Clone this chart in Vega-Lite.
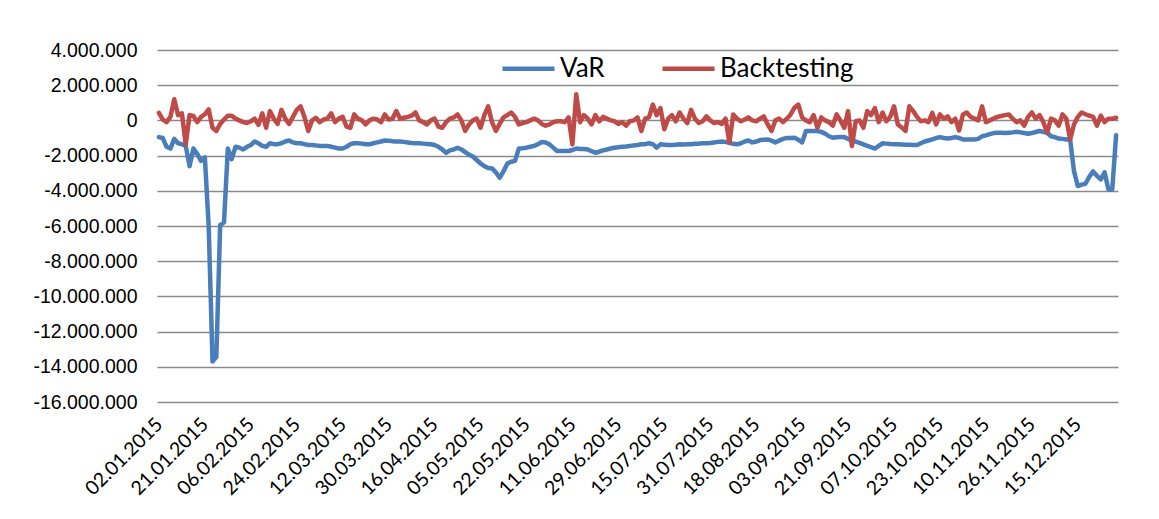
{
"$schema": "https://vega.github.io/schema/vega-lite/v6.json",
"width": 961,
"height": 352,
"autosize": "none",
"padding": {"left": 157, "top": 50, "right": 41, "bottom": 117},
"background": "white",
"config": {
  "locale": {"number": {"decimal": ",", "thousands": ".", "grouping": [3], "currency": ["", " €"], "minus": "-"}},
  "view": {"stroke": null}
},
"data": {"values": [
{"d":"02.01.2015","VaR":-950000,"Backtesting":430000},
{"d":"05.01.2015","VaR":-1000000,"Backtesting":50000},
{"d":"07.01.2015","VaR":-1500000,"Backtesting":-100000},
{"d":"08.01.2015","VaR":-1600000,"Backtesting":200000},
{"d":"09.01.2015","VaR":-1050000,"Backtesting":1200000},
{"d":"12.01.2015","VaR":-1300000,"Backtesting":300000},
{"d":"13.01.2015","VaR":-1350000,"Backtesting":400000},
{"d":"14.01.2015","VaR":-1450000,"Backtesting":-1360000},
{"d":"15.01.2015","VaR":-2600000,"Backtesting":300000},
{"d":"16.01.2015","VaR":-1600000,"Backtesting":250000},
{"d":"19.01.2015","VaR":-1900000,"Backtesting":-100000},
{"d":"20.01.2015","VaR":-2300000,"Backtesting":200000},
{"d":"21.01.2015","VaR":-2100000,"Backtesting":350000},
{"d":"22.01.2015","VaR":-6000000,"Backtesting":620000},
{"d":"23.01.2015","VaR":-13700000,"Backtesting":-420000},
{"d":"26.01.2015","VaR":-13450000,"Backtesting":-600000},
{"d":"27.01.2015","VaR":-5950000,"Backtesting":-200000},
{"d":"28.01.2015","VaR":-5800000,"Backtesting":50000},
{"d":"29.01.2015","VaR":-1600000,"Backtesting":270000},
{"d":"30.01.2015","VaR":-2200000,"Backtesting":270000},
{"d":"02.02.2015","VaR":-1500000,"Backtesting":100000},
{"d":"03.02.2015","VaR":-1550000,"Backtesting":0},
{"d":"04.02.2015","VaR":-1650000,"Backtesting":-100000},
{"d":"05.02.2015","VaR":-1500000,"Backtesting":-150000},
{"d":"06.02.2015","VaR":-1400000,"Backtesting":-50000},
{"d":"09.02.2015","VaR":-1200000,"Backtesting":100000},
{"d":"10.02.2015","VaR":-1300000,"Backtesting":-250000},
{"d":"11.02.2015","VaR":-1450000,"Backtesting":400000},
{"d":"12.02.2015","VaR":-1500000,"Backtesting":-420000},
{"d":"13.02.2015","VaR":-1300000,"Backtesting":530000},
{"d":"16.02.2015","VaR":-1350000,"Backtesting":100000},
{"d":"17.02.2015","VaR":-1350000,"Backtesting":-200000},
{"d":"18.02.2015","VaR":-1300000,"Backtesting":600000},
{"d":"19.02.2015","VaR":-1200000,"Backtesting":100000},
{"d":"20.02.2015","VaR":-1140000,"Backtesting":-200000},
{"d":"23.02.2015","VaR":-1250000,"Backtesting":200000},
{"d":"24.02.2015","VaR":-1300000,"Backtesting":600000},
{"d":"25.02.2015","VaR":-1300000,"Backtesting":800000},
{"d":"26.02.2015","VaR":-1350000,"Backtesting":200000},
{"d":"27.02.2015","VaR":-1400000,"Backtesting":-600000},
{"d":"02.03.2015","VaR":-1400000,"Backtesting":0},
{"d":"03.03.2015","VaR":-1420000,"Backtesting":150000},
{"d":"04.03.2015","VaR":-1450000,"Backtesting":-100000},
{"d":"05.03.2015","VaR":-1450000,"Backtesting":50000},
{"d":"06.03.2015","VaR":-1450000,"Backtesting":100000},
{"d":"09.03.2015","VaR":-1500000,"Backtesting":400000},
{"d":"10.03.2015","VaR":-1550000,"Backtesting":-100000},
{"d":"11.03.2015","VaR":-1600000,"Backtesting":100000},
{"d":"12.03.2015","VaR":-1600000,"Backtesting":200000},
{"d":"13.03.2015","VaR":-1500000,"Backtesting":-350000},
{"d":"16.03.2015","VaR":-1350000,"Backtesting":-420000},
{"d":"17.03.2015","VaR":-1300000,"Backtesting":340000},
{"d":"18.03.2015","VaR":-1300000,"Backtesting":100000},
{"d":"19.03.2015","VaR":-1320000,"Backtesting":0},
{"d":"20.03.2015","VaR":-1360000,"Backtesting":-230000},
{"d":"23.03.2015","VaR":-1360000,"Backtesting":0},
{"d":"24.03.2015","VaR":-1300000,"Backtesting":100000},
{"d":"25.03.2015","VaR":-1250000,"Backtesting":50000},
{"d":"26.03.2015","VaR":-1200000,"Backtesting":-100000},
{"d":"27.03.2015","VaR":-1140000,"Backtesting":340000},
{"d":"30.03.2015","VaR":-1150000,"Backtesting":50000},
{"d":"31.03.2015","VaR":-1180000,"Backtesting":100000},
{"d":"01.04.2015","VaR":-1200000,"Backtesting":530000},
{"d":"02.04.2015","VaR":-1200000,"Backtesting":100000},
{"d":"03.04.2015","VaR":-1220000,"Backtesting":150000},
{"d":"07.04.2015","VaR":-1250000,"Backtesting":200000},
{"d":"08.04.2015","VaR":-1280000,"Backtesting":270000},
{"d":"09.04.2015","VaR":-1300000,"Backtesting":450000},
{"d":"10.04.2015","VaR":-1300000,"Backtesting":0},
{"d":"13.04.2015","VaR":-1320000,"Backtesting":-100000},
{"d":"14.04.2015","VaR":-1340000,"Backtesting":-230000},
{"d":"15.04.2015","VaR":-1360000,"Backtesting":0},
{"d":"16.04.2015","VaR":-1400000,"Backtesting":100000},
{"d":"17.04.2015","VaR":-1500000,"Backtesting":-350000},
{"d":"20.04.2015","VaR":-1650000,"Backtesting":-420000},
{"d":"21.04.2015","VaR":-1840000,"Backtesting":-100000},
{"d":"22.04.2015","VaR":-1700000,"Backtesting":100000},
{"d":"23.04.2015","VaR":-1650000,"Backtesting":170000},
{"d":"24.04.2015","VaR":-1550000,"Backtesting":340000},
{"d":"27.04.2015","VaR":-1650000,"Backtesting":0},
{"d":"28.04.2015","VaR":-1800000,"Backtesting":-600000},
{"d":"29.04.2015","VaR":-1950000,"Backtesting":-230000},
{"d":"30.04.2015","VaR":-2050000,"Backtesting":0},
{"d":"04.05.2015","VaR":-2250000,"Backtesting":100000},
{"d":"05.05.2015","VaR":-2450000,"Backtesting":-420000},
{"d":"06.05.2015","VaR":-2600000,"Backtesting":300000},
{"d":"07.05.2015","VaR":-2700000,"Backtesting":800000},
{"d":"08.05.2015","VaR":-2730000,"Backtesting":-100000},
{"d":"11.05.2015","VaR":-2950000,"Backtesting":-600000},
{"d":"12.05.2015","VaR":-3260000,"Backtesting":-200000},
{"d":"13.05.2015","VaR":-2900000,"Backtesting":170000},
{"d":"15.05.2015","VaR":-2450000,"Backtesting":300000},
{"d":"18.05.2015","VaR":-2350000,"Backtesting":450000},
{"d":"19.05.2015","VaR":-2300000,"Backtesting":200000},
{"d":"20.05.2015","VaR":-1600000,"Backtesting":-230000},
{"d":"21.05.2015","VaR":-1580000,"Backtesting":-150000},
{"d":"22.05.2015","VaR":-1550000,"Backtesting":-100000},
{"d":"26.05.2015","VaR":-1500000,"Backtesting":0},
{"d":"27.05.2015","VaR":-1450000,"Backtesting":100000},
{"d":"28.05.2015","VaR":-1350000,"Backtesting":0},
{"d":"29.05.2015","VaR":-1230000,"Backtesting":-200000},
{"d":"01.06.2015","VaR":-1250000,"Backtesting":-300000},
{"d":"02.06.2015","VaR":-1360000,"Backtesting":-230000},
{"d":"03.06.2015","VaR":-1550000,"Backtesting":-100000},
{"d":"05.06.2015","VaR":-1740000,"Backtesting":-50000},
{"d":"08.06.2015","VaR":-1740000,"Backtesting":-50000},
{"d":"09.06.2015","VaR":-1740000,"Backtesting":-100000},
{"d":"10.06.2015","VaR":-1740000,"Backtesting":170000},
{"d":"11.06.2015","VaR":-1680000,"Backtesting":-1360000},
{"d":"12.06.2015","VaR":-1600000,"Backtesting":1480000},
{"d":"15.06.2015","VaR":-1620000,"Backtesting":-100000},
{"d":"16.06.2015","VaR":-1630000,"Backtesting":300000},
{"d":"17.06.2015","VaR":-1650000,"Backtesting":100000},
{"d":"18.06.2015","VaR":-1750000,"Backtesting":-230000},
{"d":"19.06.2015","VaR":-1840000,"Backtesting":300000},
{"d":"22.06.2015","VaR":-1780000,"Backtesting":-50000},
{"d":"23.06.2015","VaR":-1700000,"Backtesting":200000},
{"d":"24.06.2015","VaR":-1650000,"Backtesting":100000},
{"d":"25.06.2015","VaR":-1600000,"Backtesting":0},
{"d":"26.06.2015","VaR":-1550000,"Backtesting":-50000},
{"d":"29.06.2015","VaR":-1520000,"Backtesting":-200000},
{"d":"30.06.2015","VaR":-1500000,"Backtesting":-100000},
{"d":"01.07.2015","VaR":-1480000,"Backtesting":-300000},
{"d":"02.07.2015","VaR":-1450000,"Backtesting":-50000},
{"d":"03.07.2015","VaR":-1420000,"Backtesting":0},
{"d":"06.07.2015","VaR":-1400000,"Backtesting":170000},
{"d":"07.07.2015","VaR":-1360000,"Backtesting":-600000},
{"d":"08.07.2015","VaR":-1350000,"Backtesting":100000},
{"d":"09.07.2015","VaR":-1300000,"Backtesting":170000},
{"d":"10.07.2015","VaR":-1350000,"Backtesting":900000},
{"d":"13.07.2015","VaR":-1550000,"Backtesting":300000},
{"d":"14.07.2015","VaR":-1360000,"Backtesting":700000},
{"d":"15.07.2015","VaR":-1380000,"Backtesting":-500000},
{"d":"16.07.2015","VaR":-1400000,"Backtesting":100000},
{"d":"17.07.2015","VaR":-1400000,"Backtesting":300000},
{"d":"20.07.2015","VaR":-1380000,"Backtesting":-50000},
{"d":"21.07.2015","VaR":-1360000,"Backtesting":450000},
{"d":"22.07.2015","VaR":-1370000,"Backtesting":100000},
{"d":"23.07.2015","VaR":-1360000,"Backtesting":-150000},
{"d":"24.07.2015","VaR":-1350000,"Backtesting":600000},
{"d":"27.07.2015","VaR":-1330000,"Backtesting":100000},
{"d":"28.07.2015","VaR":-1320000,"Backtesting":-150000},
{"d":"29.07.2015","VaR":-1300000,"Backtesting":-50000},
{"d":"30.07.2015","VaR":-1300000,"Backtesting":230000},
{"d":"31.07.2015","VaR":-1280000,"Backtesting":0},
{"d":"03.08.2015","VaR":-1250000,"Backtesting":-150000},
{"d":"04.08.2015","VaR":-1220000,"Backtesting":-100000},
{"d":"05.08.2015","VaR":-1200000,"Backtesting":-200000},
{"d":"06.08.2015","VaR":-1220000,"Backtesting":100000},
{"d":"07.08.2015","VaR":-1280000,"Backtesting":-1270000},
{"d":"10.08.2015","VaR":-1330000,"Backtesting":340000},
{"d":"11.08.2015","VaR":-1360000,"Backtesting":100000},
{"d":"12.08.2015","VaR":-1300000,"Backtesting":-50000},
{"d":"13.08.2015","VaR":-1200000,"Backtesting":50000},
{"d":"14.08.2015","VaR":-1140000,"Backtesting":170000},
{"d":"17.08.2015","VaR":-1250000,"Backtesting":0},
{"d":"18.08.2015","VaR":-1200000,"Backtesting":-50000},
{"d":"19.08.2015","VaR":-1120000,"Backtesting":100000},
{"d":"20.08.2015","VaR":-1100000,"Backtesting":230000},
{"d":"21.08.2015","VaR":-1080000,"Backtesting":-230000},
{"d":"24.08.2015","VaR":-1150000,"Backtesting":-600000},
{"d":"25.08.2015","VaR":-1250000,"Backtesting":0},
{"d":"26.08.2015","VaR":-1150000,"Backtesting":100000},
{"d":"27.08.2015","VaR":-1050000,"Backtesting":-100000},
{"d":"28.08.2015","VaR":-1000000,"Backtesting":100000},
{"d":"31.08.2015","VaR":-1000000,"Backtesting":340000},
{"d":"01.09.2015","VaR":-980000,"Backtesting":720000},
{"d":"02.09.2015","VaR":-1100000,"Backtesting":900000},
{"d":"03.09.2015","VaR":-1250000,"Backtesting":170000},
{"d":"04.09.2015","VaR":-600000,"Backtesting":0},
{"d":"07.09.2015","VaR":-600000,"Backtesting":-100000},
{"d":"08.09.2015","VaR":-600000,"Backtesting":300000},
{"d":"09.09.2015","VaR":-600000,"Backtesting":-420000},
{"d":"10.09.2015","VaR":-650000,"Backtesting":170000},
{"d":"11.09.2015","VaR":-750000,"Backtesting":0},
{"d":"14.09.2015","VaR":-900000,"Backtesting":-100000},
{"d":"15.09.2015","VaR":-980000,"Backtesting":-300000},
{"d":"16.09.2015","VaR":-960000,"Backtesting":340000},
{"d":"17.09.2015","VaR":-950000,"Backtesting":0},
{"d":"18.09.2015","VaR":-950000,"Backtesting":-420000},
{"d":"21.09.2015","VaR":-1050000,"Backtesting":530000},
{"d":"22.09.2015","VaR":-1150000,"Backtesting":-1460000},
{"d":"23.09.2015","VaR":-1200000,"Backtesting":-50000},
{"d":"24.09.2015","VaR":-1280000,"Backtesting":0},
{"d":"25.09.2015","VaR":-1360000,"Backtesting":-420000},
{"d":"28.09.2015","VaR":-1450000,"Backtesting":530000},
{"d":"29.09.2015","VaR":-1520000,"Backtesting":300000},
{"d":"30.09.2015","VaR":-1600000,"Backtesting":700000},
{"d":"01.10.2015","VaR":-1450000,"Backtesting":-100000},
{"d":"02.10.2015","VaR":-1300000,"Backtesting":450000},
{"d":"05.10.2015","VaR":-1320000,"Backtesting":-50000},
{"d":"06.10.2015","VaR":-1340000,"Backtesting":200000},
{"d":"07.10.2015","VaR":-1350000,"Backtesting":800000},
{"d":"08.10.2015","VaR":-1360000,"Backtesting":-230000},
{"d":"09.10.2015","VaR":-1370000,"Backtesting":-400000},
{"d":"12.10.2015","VaR":-1380000,"Backtesting":-600000},
{"d":"13.10.2015","VaR":-1380000,"Backtesting":800000},
{"d":"14.10.2015","VaR":-1400000,"Backtesting":530000},
{"d":"15.10.2015","VaR":-1400000,"Backtesting":200000},
{"d":"16.10.2015","VaR":-1300000,"Backtesting":-50000},
{"d":"19.10.2015","VaR":-1200000,"Backtesting":0},
{"d":"20.10.2015","VaR":-1140000,"Backtesting":-100000},
{"d":"21.10.2015","VaR":-1080000,"Backtesting":430000},
{"d":"22.10.2015","VaR":-1000000,"Backtesting":-230000},
{"d":"23.10.2015","VaR":-950000,"Backtesting":340000},
{"d":"26.10.2015","VaR":-1000000,"Backtesting":100000},
{"d":"27.10.2015","VaR":-1030000,"Backtesting":230000},
{"d":"28.10.2015","VaR":-1000000,"Backtesting":-100000},
{"d":"29.10.2015","VaR":-950000,"Backtesting":100000},
{"d":"30.10.2015","VaR":-1000000,"Backtesting":-570000},
{"d":"02.11.2015","VaR":-1080000,"Backtesting":340000},
{"d":"03.11.2015","VaR":-1080000,"Backtesting":450000},
{"d":"04.11.2015","VaR":-1080000,"Backtesting":200000},
{"d":"05.11.2015","VaR":-1080000,"Backtesting":100000},
{"d":"06.11.2015","VaR":-1050000,"Backtesting":0},
{"d":"09.11.2015","VaR":-900000,"Backtesting":800000},
{"d":"10.11.2015","VaR":-850000,"Backtesting":-100000},
{"d":"11.11.2015","VaR":-780000,"Backtesting":0},
{"d":"12.11.2015","VaR":-720000,"Backtesting":100000},
{"d":"13.11.2015","VaR":-700000,"Backtesting":200000},
{"d":"16.11.2015","VaR":-700000,"Backtesting":250000},
{"d":"17.11.2015","VaR":-720000,"Backtesting":300000},
{"d":"18.11.2015","VaR":-700000,"Backtesting":340000},
{"d":"19.11.2015","VaR":-680000,"Backtesting":100000},
{"d":"20.11.2015","VaR":-650000,"Backtesting":-100000},
{"d":"23.11.2015","VaR":-680000,"Backtesting":0},
{"d":"24.11.2015","VaR":-720000,"Backtesting":-300000},
{"d":"25.11.2015","VaR":-760000,"Backtesting":200000},
{"d":"26.11.2015","VaR":-720000,"Backtesting":450000},
{"d":"27.11.2015","VaR":-660000,"Backtesting":100000},
{"d":"30.11.2015","VaR":-600000,"Backtesting":300000},
{"d":"01.12.2015","VaR":-650000,"Backtesting":-100000},
{"d":"02.12.2015","VaR":-700000,"Backtesting":-700000},
{"d":"03.12.2015","VaR":-900000,"Backtesting":100000},
{"d":"04.12.2015","VaR":-950000,"Backtesting":0},
{"d":"07.12.2015","VaR":-1030000,"Backtesting":-300000},
{"d":"09.12.2015","VaR":-1050000,"Backtesting":340000},
{"d":"10.12.2015","VaR":-1080000,"Backtesting":100000},
{"d":"11.12.2015","VaR":-1080000,"Backtesting":-1080000},
{"d":"14.12.2015","VaR":-2880000,"Backtesting":-230000},
{"d":"15.12.2015","VaR":-3730000,"Backtesting":200000},
{"d":"16.12.2015","VaR":-3650000,"Backtesting":450000},
{"d":"17.12.2015","VaR":-3600000,"Backtesting":350000},
{"d":"18.12.2015","VaR":-3200000,"Backtesting":270000},
{"d":"21.12.2015","VaR":-2900000,"Backtesting":200000},
{"d":"22.12.2015","VaR":-3150000,"Backtesting":-300000},
{"d":"23.12.2015","VaR":-3350000,"Backtesting":270000},
{"d":"28.12.2015","VaR":-2950000,"Backtesting":-100000},
{"d":"29.12.2015","VaR":-3920000,"Backtesting":100000},
{"d":"30.12.2015","VaR":-3920000,"Backtesting":100000},
{"d":"31.12.2015","VaR":-850000,"Backtesting":150000}
]},
"transform": [{"fold": ["VaR", "Backtesting"], "as": ["series", "value"]}],
"mark": {"type": "line", "strokeWidth": 4.5, "strokeJoin": "round", "strokeCap": "round"},
"encoding": {
  "x": {
    "field": "d", "type": "ordinal", "sort": null,
    "scale": {"type": "point", "padding": 0.5},
    "axis": {
      "title": null, "domain": false, "ticks": false, "grid": false,
      "values": ["02.01.2015","21.01.2015","06.02.2015","24.02.2015","12.03.2015","30.03.2015","16.04.2015","05.05.2015","22.05.2015","11.06.2015","29.06.2015","15.07.2015","31.07.2015","18.08.2015","03.09.2015","21.09.2015","07.10.2015","23.10.2015","10.11.2015","26.11.2015","15.12.2015"],
      "labelAngle": -45, "labelAlign": "right", "labelBaseline": "middle",
      "labelPadding": 19, "labelFont": "Lato", "labelFontSize": 19.5, "labelColor": "#000000",
      "labelOverlap": false
    }
  },
  "y": {
    "field": "value", "type": "quantitative",
    "scale": {"domain": [-16000000, 4000000], "nice": false, "zero": false},
    "axis": {
      "title": null, "domain": false, "ticks": false,
      "values": [-16000000,-14000000,-12000000,-10000000,-8000000,-6000000,-4000000,-2000000,0,2000000,4000000],
      "format": ",d", "labelPadding": 20,
      "labelFont": "Liberation Sans", "labelFontSize": 19.5, "labelColor": "#000000",
      "gridColor": "#8a8a8a", "gridWidth": 1.5, "gridOpacity": 1
    }
  },
  "color": {
    "field": "series", "type": "nominal",
    "scale": {"domain": ["VaR", "Backtesting"], "range": ["#4A7EBB", "#BE4B48"]},
    "legend": {
      "title": null, "orient": "none", "direction": "horizontal",
      "legendX": 343, "legendY": -10,
      "symbolType": "stroke", "symbolSize": 2704, "symbolStrokeWidth": 4.5,
      "labelFont": "Lato", "labelFontSize": 26, "labelColor": "#000000",
      "labelOffset": 3, "columnPadding": 48
    }
  }
}
}
